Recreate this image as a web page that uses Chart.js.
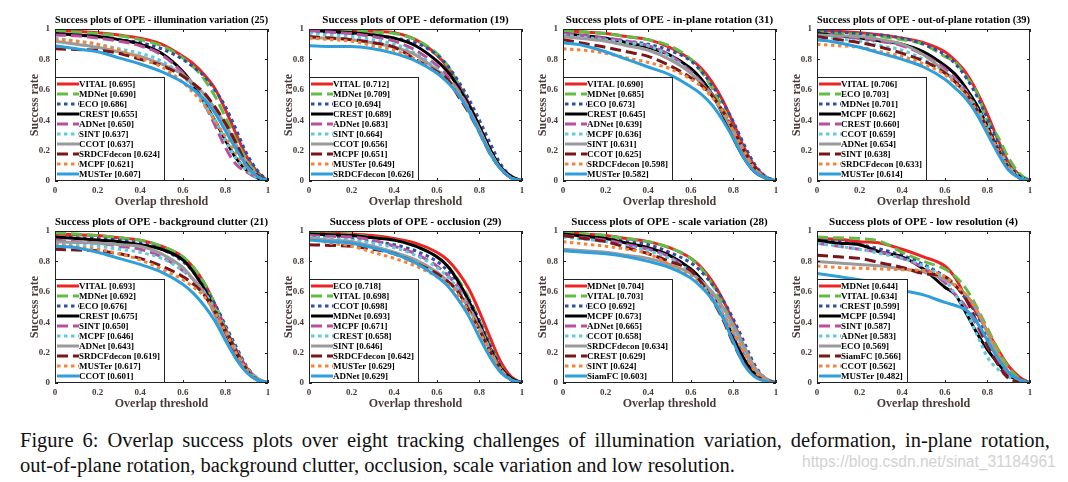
<!DOCTYPE html>
<html>
<head>
<meta charset="utf-8">
<script src="https://cdn.jsdelivr.net/npm/chart.js@4.4.1/dist/chart.umd.min.js"></script>
<style>
  body { margin: 0; background: #fff; width: 1068px; height: 482px; overflow: hidden; position: relative; }
  .panel { position: absolute; width: 280px; height: 212px; }
  .cap { position: absolute; left: 20px; font-family: "Liberation Serif", serif; font-size: 20.5px; line-height: 25px; color: #111; white-space: nowrap; }
  #cap1 { top: 428px; width: 1030px; text-align: justify; text-align-last: justify; white-space: normal; }
  #cap2 { top: 453px; }
  #mark { position: absolute; left: 802px; top: 453px; font-family: "Liberation Sans", sans-serif; font-size: 15.6px; color: #d2d2d2; }
</style>
</head>
<body>
<div id="cap1" class="cap">Figure 6: Overlap success plots over eight tracking challenges of illumination variation, deformation, in-plane rotation,</div>
<div id="cap2" class="cap">out-of-plane rotation, background clutter, occlusion, scale variation and low resolution.</div>
<div id="mark">https://blog.csdn.net/sinat_31184961</div>
<script>
// overlap thresholds (x axis)
const thresholds = [0, 0.1, 0.2, 0.3, 0.4, 0.5, 0.6, 0.65, 0.7, 0.75, 0.8, 0.85, 0.9, 0.95, 1];

// illumination variation (25)
const illumNames = ['VITAL', 'MDNet', 'ECO', 'CREST', 'ADNet', 'SINT', 'CCOT', 'SRDCFdecon', 'MCPF', 'MUSTer'];
const illumScores = [0.695, 0.690, 0.686, 0.655, 0.650, 0.637, 0.637, 0.624, 0.621, 0.607];
const illumCurves = [
  [.99, .985, .975, .96, .94, .90, .82, .77, .70, .61, .47, .31, .16, .06, 0],
  [.99, .98, .97, .955, .93, .89, .81, .75, .67, .56, .42, .27, .14, .05, 0],
  [.97, .96, .95, .93, .91, .87, .80, .75, .69, .60, .49, .34, .18, .07, 0],
  [.97, .96, .95, .93, .90, .84, .72, .63, .52, .40, .27, .15, .07, .02, 0],
  [.96, .955, .94, .92, .89, .83, .71, .62, .51, .37, .22, .11, .06, .02, 0],
  [.94, .92, .90, .87, .84, .79, .69, .61, .51, .40, .27, .15, .07, .02, 0],
  [.92, .90, .88, .85, .82, .77, .70, .64, .57, .48, .37, .24, .12, .04, 0],
  [.87, .865, .86, .84, .80, .76, .69, .64, .58, .49, .38, .25, .11, .04, 0],
  [.93, .92, .90, .86, .81, .75, .65, .58, .50, .40, .29, .18, .09, .03, 0],
  [.89, .87, .85, .81, .77, .72, .65, .60, .54, .45, .33, .21, .10, .03, 0]
];

// deformation (19)
const deformNames = ['VITAL', 'MDNet', 'ECO', 'CREST', 'ADNet', 'SINT', 'CCOT', 'MCPF', 'MUSTer', 'SRDCFdecon'];
const deformScores = [0.712, 0.709, 0.694, 0.689, 0.683, 0.664, 0.656, 0.651, 0.649, 0.626];
const deformCurves = [
  [1, .995, .99, .985, .975, .93, .83, .75, .64, .51, .36, .20, .09, .03, 0],
  [1, .995, .99, .98, .97, .93, .84, .76, .64, .50, .35, .20, .09, .03, 0],
  [.98, .975, .97, .96, .94, .91, .83, .76, .66, .54, .40, .25, .11, .03, 0],
  [.99, .985, .975, .96, .94, .89, .79, .72, .62, .50, .36, .21, .09, .03, 0],
  [.99, .98, .97, .95, .92, .86, .76, .69, .60, .48, .33, .19, .08, .02, 0],
  [.97, .96, .95, .93, .90, .84, .74, .67, .59, .47, .33, .19, .08, .02, 0],
  [.94, .94, .93, .91, .88, .83, .73, .67, .59, .47, .34, .19, .08, .02, 0],
  [.95, .94, .93, .91, .88, .80, .72, .67, .56, .45, .32, .18, .08, .02, 0],
  [.94, .93, .92, .89, .86, .80, .71, .65, .58, .46, .33, .19, .08, .02, 0],
  [.89, .885, .885, .87, .84, .79, .71, .65, .57, .46, .32, .18, .08, .02, 0]
];

// in-plane rotation (31)
const inplaneNames = ['VITAL', 'MDNet', 'ECO', 'CREST', 'ADNet', 'MCPF', 'SINT', 'CCOT', 'SRDCFdecon', 'MUSTer'];
const inplaneScores = [0.690, 0.685, 0.673, 0.645, 0.639, 0.636, 0.631, 0.625, 0.598, 0.582];
const inplaneCurves = [
  [.99, .98, .97, .95, .93, .88, .80, .74, .65, .53, .38, .22, .10, .03, 0],
  [.99, .98, .97, .95, .93, .89, .80, .72, .61, .48, .34, .20, .08, .03, 0],
  [.96, .95, .94, .92, .90, .86, .79, .72, .63, .52, .39, .24, .11, .03, 0],
  [.97, .955, .94, .91, .88, .83, .74, .67, .57, .44, .28, .15, .06, .02, 0],
  [.97, .955, .94, .92, .89, .83, .72, .65, .57, .45, .33, .19, .08, .02, 0],
  [.96, .945, .93, .91, .89, .82, .71, .64, .56, .45, .33, .19, .08, .02, 0],
  [.95, .935, .92, .89, .86, .80, .71, .64, .56, .45, .32, .19, .08, .02, 0],
  [.93, .905, .88, .85, .82, .76, .68, .63, .56, .46, .34, .20, .09, .02, 0],
  [.87, .86, .84, .81, .78, .74, .67, .62, .55, .46, .33, .20, .08, .02, 0],
  [.91, .89, .85, .80, .75, .70, .62, .57, .50, .40, .28, .15, .06, .02, 0]
];

// out-of-plane rotation (39)
const outplaneNames = ['VITAL', 'ECO', 'MDNet', 'MCPF', 'CREST', 'CCOT', 'ADNet', 'SINT', 'SRDCFdecon', 'MUSTer'];
const outplaneScores = [0.706, 0.703, 0.701, 0.662, 0.660, 0.659, 0.654, 0.638, 0.633, 0.614];
const outplaneCurves = [
  [.99, .985, .975, .96, .94, .91, .85, .79, .71, .59, .44, .27, .12, .04, 0],
  [.98, .97, .965, .95, .93, .90, .82, .78, .69, .58, .40, .29, .15, .05, 0],
  [.99, .98, .97, .96, .94, .90, .83, .77, .68, .56, .41, .25, .11, .03, 0],
  [.97, .955, .94, .92, .90, .85, .76, .70, .61, .50, .36, .21, .09, .03, 0],
  [.96, .95, .94, .92, .89, .83, .74, .67, .59, .47, .34, .20, .08, .02, 0],
  [.95, .935, .92, .89, .86, .80, .72, .66, .59, .48, .37, .22, .10, .03, 0],
  [.96, .955, .95, .93, .90, .83, .72, .65, .57, .45, .33, .19, .08, .02, 0],
  [.95, .93, .91, .88, .84, .79, .71, .65, .58, .47, .35, .21, .09, .02, 0],
  [.90, .89, .88, .85, .82, .77, .70, .64, .57, .46, .34, .20, .09, .02, 0],
  [.93, .91, .88, .84, .80, .75, .67, .61, .54, .44, .31, .18, .07, .02, 0]
];

// background clutter (21)
const clutterNames = ['VITAL', 'MDNet', 'ECO', 'CREST', 'SINT', 'MCPF', 'ADNet', 'SRDCFdecon', 'MUSTer', 'CCOT'];
const clutterScores = [0.693, 0.692, 0.676, 0.675, 0.650, 0.646, 0.643, 0.619, 0.617, 0.601];
const clutterCurves = [
  [.98, .975, .97, .955, .94, .90, .83, .76, .66, .52, .36, .22, .10, .03, 0],
  [.99, .98, .97, .955, .94, .90, .83, .76, .66, .52, .36, .21, .09, .03, 0],
  [.96, .955, .95, .94, .92, .88, .80, .73, .63, .52, .38, .24, .11, .03, 0],
  [.96, .95, .94, .93, .91, .88, .81, .73, .62, .48, .33, .19, .08, .02, 0],
  [.94, .93, .92, .90, .88, .83, .74, .68, .60, .48, .34, .20, .08, .02, 0],
  [.92, .91, .90, .88, .86, .82, .74, .68, .60, .49, .36, .22, .10, .03, 0],
  [.93, .925, .92, .91, .90, .85, .76, .68, .59, .45, .29, .16, .07, .02, 0],
  [.88, .875, .87, .85, .82, .77, .70, .65, .58, .47, .35, .21, .09, .02, 0],
  [.91, .895, .88, .85, .81, .75, .68, .63, .57, .47, .34, .20, .09, .02, 0],
  [.90, .89, .86, .82, .78, .73, .65, .59, .51, .41, .28, .16, .07, .02, 0]
];

// occlusion (29)
const occlNames = ['ECO', 'VITAL', 'CCOT', 'MDNet', 'MCPF', 'CREST', 'SINT', 'SRDCFdecon', 'MUSTer', 'ADNet'];
const occlScores = [0.718, 0.698, 0.698, 0.693, 0.671, 0.658, 0.646, 0.642, 0.629, 0.629];
const occlCurves = [
  [.99, .985, .98, .97, .95, .92, .86, .81, .73, .62, .47, .30, .14, .04, 0],
  [.99, .98, .975, .96, .94, .90, .83, .77, .68, .56, .41, .25, .11, .03, 0],
  [.97, .96, .95, .93, .91, .87, .80, .74, .66, .55, .41, .25, .11, .03, 0],
  [.98, .975, .97, .955, .94, .90, .83, .77, .67, .54, .39, .23, .10, .03, 0],
  [.97, .965, .96, .94, .90, .85, .77, .71, .63, .51, .37, .22, .09, .02, 0],
  [.96, .95, .94, .92, .89, .84, .76, .70, .62, .50, .37, .22, .09, .02, 0],
  [.95, .94, .93, .90, .86, .81, .73, .67, .60, .49, .36, .21, .09, .02, 0],
  [.91, .905, .90, .88, .85, .79, .72, .67, .60, .48, .35, .21, .09, .02, 0],
  [.95, .92, .90, .86, .82, .77, .70, .65, .58, .47, .34, .20, .09, .02, 0],
  [.94, .93, .92, .89, .85, .79, .70, .64, .55, .44, .30, .17, .07, .02, 0]
];

// scale variation (28)
const scaleNames = ['MDNet', 'VITAL', 'ECO', 'MCPF', 'ADNet', 'CCOT', 'SRDCFdecon', 'CREST', 'SINT', 'SiamFC'];
const scaleScores = [0.704, 0.703, 0.692, 0.673, 0.665, 0.658, 0.634, 0.629, 0.624, 0.603];
const scaleCurves = [
  [.99, .98, .97, .95, .93, .89, .82, .76, .67, .55, .40, .24, .10, .03, 0],
  [.99, .98, .97, .95, .93, .89, .82, .75, .65, .52, .37, .22, .09, .03, 0],
  [.97, .96, .95, .93, .91, .86, .79, .73, .65, .55, .42, .27, .12, .03, 0],
  [.98, .965, .95, .92, .89, .84, .75, .68, .58, .45, .30, .16, .06, .02, 0],
  [.97, .955, .94, .91, .88, .83, .73, .66, .58, .46, .33, .20, .09, .02, 0],
  [.96, .945, .93, .90, .87, .82, .73, .66, .58, .47, .35, .22, .10, .03, 0],
  [.88, .87, .86, .84, .82, .78, .72, .67, .60, .50, .38, .24, .10, .03, 0],
  [.97, .95, .93, .89, .85, .80, .74, .66, .55, .42, .26, .13, .05, .02, 0],
  [.93, .915, .90, .88, .85, .78, .70, .64, .56, .45, .33, .20, .08, .02, 0],
  [.87, .86, .85, .83, .80, .76, .69, .63, .55, .43, .27, .12, .04, .01, 0]
];

// low resolution (4)
const lowresNames = ['MDNet', 'VITAL', 'CREST', 'MCPF', 'SINT', 'ADNet', 'ECO', 'SiamFC', 'CCOT', 'MUSTer'];
const lowresScores = [0.644, 0.634, 0.599, 0.594, 0.587, 0.583, 0.569, 0.566, 0.562, 0.482];
const lowresCurves = [
  [.95, .945, .93, .92, .88, .83, .77, .69, .56, .46, .34, .22, .11, .04, 0],
  [.96, .955, .95, .93, .86, .80, .75, .70, .62, .50, .36, .22, .10, .03, 0],
  [.94, .93, .91, .88, .84, .78, .70, .64, .55, .45, .31, .18, .07, .02, 0],
  [.94, .92, .91, .86, .83, .75, .63, .58, .46, .33, .22, .13, .05, .02, 0],
  [.92, .90, .88, .86, .82, .76, .66, .58, .50, .38, .24, .14, .06, .02, 0],
  [.92, .90, .88, .85, .82, .77, .68, .58, .47, .32, .17, .09, .04, .01, 0],
  [.80, .79, .78, .77, .75, .73, .68, .64, .58, .48, .33, .18, .07, .02, 0],
  [.84, .83, .82, .79, .76, .72, .70, .64, .55, .40, .25, .12, .03, .01, 0],
  [.77, .76, .755, .75, .745, .74, .70, .64, .58, .48, .34, .20, .08, .02, 0],
  [.72, .70, .68, .66, .61, .58, .53, .51, .48, .40, .28, .16, .07, .02, 0]
];

const axisTicks = [0, 0.2, 0.4, 0.6, 0.8, 1];

// line style by rank (same for every panel)
const rankColors = ['#ee2424', '#62bd44', '#2f4ea6', '#000000', '#b8509e', '#5ecbe0', '#9a9a9a', '#7a1618', '#f3843a', '#2f9fdc'];
const rankDash = [[], [11, 5], [3.5, 3.5], [], [11, 5], [3.5, 3.5], [], [11, 5], [3.5, 3.5], []];

const serif = '"Liberation Serif", "Times New Roman", serif';
const labelColor = '#4a3b36';

// box with inward ticks (matlab style)
const boxPlugin = {
  id: 'box',
  afterDatasetsDraw(chart) {
    const { ctx, chartArea: a, scales } = chart;
    ctx.save();
    ctx.strokeStyle = '#222';
    ctx.lineWidth = 1;
    ctx.strokeRect(a.left + 0.5, a.top + 0.5, a.right - a.left - 1, a.bottom - a.top - 1);
    ctx.beginPath();
    axisTicks.forEach(v => {
      const px = Math.round(scales.x.getPixelForValue(v)) + 0.5;
      const py = Math.round(scales.y.getPixelForValue(v)) + 0.5;
      ctx.moveTo(px, a.bottom); ctx.lineTo(px, a.bottom - 3);
      ctx.moveTo(px, a.top); ctx.lineTo(px, a.top + 3);
      ctx.moveTo(a.left, py); ctx.lineTo(a.left + 3, py);
      ctx.moveTo(a.right, py); ctx.lineTo(a.right - 3, py);
    });
    ctx.stroke();
    ctx.restore();
  }
};

// legend box in the lower left corner of the plot
const cornerLegend = {
  id: 'cornerLegend',
  afterDraw(chart) {
    const { ctx, chartArea: a } = chart;
    const sets = chart.data.datasets;
    ctx.save();
    ctx.font = 'bold 9px ' + serif;
    const textW = Math.max(...sets.map(d => ctx.measureText(d.label).width));
    const sampleW = 22, rowH = 10;
    const w = Math.round(2 + sampleW + textW + 5), h = rowH * sets.length + 4;
    const x0 = a.left, y0 = a.bottom - h;
    ctx.fillStyle = '#fff';
    ctx.fillRect(x0, y0, w, h);
    ctx.strokeStyle = '#222';
    ctx.lineWidth = 1;
    ctx.strokeRect(x0 + 0.5, y0 + 0.5, w - 1, h - 1);
    sets.forEach((d, i) => {
      const y = y0 + 7 + rowH * i;
      ctx.beginPath();
      ctx.strokeStyle = d.borderColor;
      ctx.lineWidth = d.borderWidth;
      ctx.setLineDash(d.borderDash);
      ctx.moveTo(x0 + 2, y);
      ctx.lineTo(x0 + 2 + sampleW, y);
      ctx.stroke();
      ctx.setLineDash([]);
      ctx.fillStyle = '#000';
      ctx.textBaseline = 'middle';
      ctx.textAlign = 'left';
      ctx.fillText(d.label, x0 + 2 + sampleW, y + 0.5);
    });
    ctx.restore();
  }
};

function fmtTick(v) { return String(Number(v.toFixed(1))); }

function makePanel(left, top, title, names, scores, curves) {
  const canvas = document.createElement('canvas');
  canvas.className = 'panel';
  canvas.width = 280; canvas.height = 212;
  canvas.style.left = left + 'px';
  canvas.style.top = top + 'px';
  document.body.appendChild(canvas);

  new Chart(canvas, {
    type: 'line',
    data: {
      datasets: curves.map((ys, i) => ({
        label: names[i] + ' [' + scores[i].toFixed(3) + ']',
        data: thresholds.map((t, j) => ({ x: t, y: ys[j] })),
        borderColor: rankColors[i],
        borderDash: rankDash[i],
        borderWidth: 3,
        borderCapStyle: 'butt',
        pointRadius: 0,
        cubicInterpolationMode: 'monotone',
        fill: false,
        order: 10 - i
      }))
    },
    options: {
      responsive: false,
      animation: false,
      layout: { padding: { left: 0, right: 12, top: 0, bottom: 2 } },
      scales: {
        x: {
          type: 'linear', min: 0, max: 1,
          afterFit: s => { s.height = 29; },
          grid: { display: false, drawTicks: false, tickLength: 0 },
          border: { display: false },
          ticks: { stepSize: 0.2, padding: 4, color: labelColor, callback: fmtTick,
                   font: { family: serif, size: 9, weight: 'bold' } },
          title: { display: true, text: 'Overlap threshold', color: labelColor,
                   padding: { top: 0, bottom: 1 },
                   font: { family: serif, size: 12, weight: 'bold' } }
        },
        y: {
          type: 'linear', min: 0, max: 1,
          afterFit: s => { s.width = 55; },
          grid: { display: false, drawTicks: false, tickLength: 0 },
          border: { display: false },
          ticks: { stepSize: 0.2, padding: 5, color: labelColor, callback: fmtTick,
                   font: { family: serif, size: 9, weight: 'bold' } },
          title: { display: true, text: 'Success rate', color: labelColor,
                   padding: { top: 28, bottom: 0 },
                   font: { family: serif, size: 12, weight: 'bold' } }
        }
      },
      plugins: {
        legend: { display: false },
        tooltip: { enabled: false },
        title: {
          display: true, text: title, fullSize: false, color: '#000',
          padding: { top: 14, bottom: 1.8 },
          font: { family: serif, size: 11, weight: 'bold' }
        }
      }
    },
    plugins: [boxPlugin, cornerLegend]
  });
}

makePanel(0, 0, 'Success plots of OPE - illumination variation (25)', illumNames, illumScores, illumCurves);
makePanel(254, 0, 'Success plots of OPE - deformation (19)', deformNames, deformScores, deformCurves);
makePanel(508, 0, 'Success plots of OPE - in-plane rotation (31)', inplaneNames, inplaneScores, inplaneCurves);
makePanel(762, 0, 'Success plots of OPE - out-of-plane rotation (39)', outplaneNames, outplaneScores, outplaneCurves);
makePanel(0, 202, 'Success plots of OPE - background clutter (21)', clutterNames, clutterScores, clutterCurves);
makePanel(254, 202, 'Success plots of OPE - occlusion (29)', occlNames, occlScores, occlCurves);
makePanel(508, 202, 'Success plots of OPE - scale variation (28)', scaleNames, scaleScores, scaleCurves);
makePanel(762, 202, 'Success plots of OPE - low resolution (4)', lowresNames, lowresScores, lowresCurves);
</script>
</body>
</html>
